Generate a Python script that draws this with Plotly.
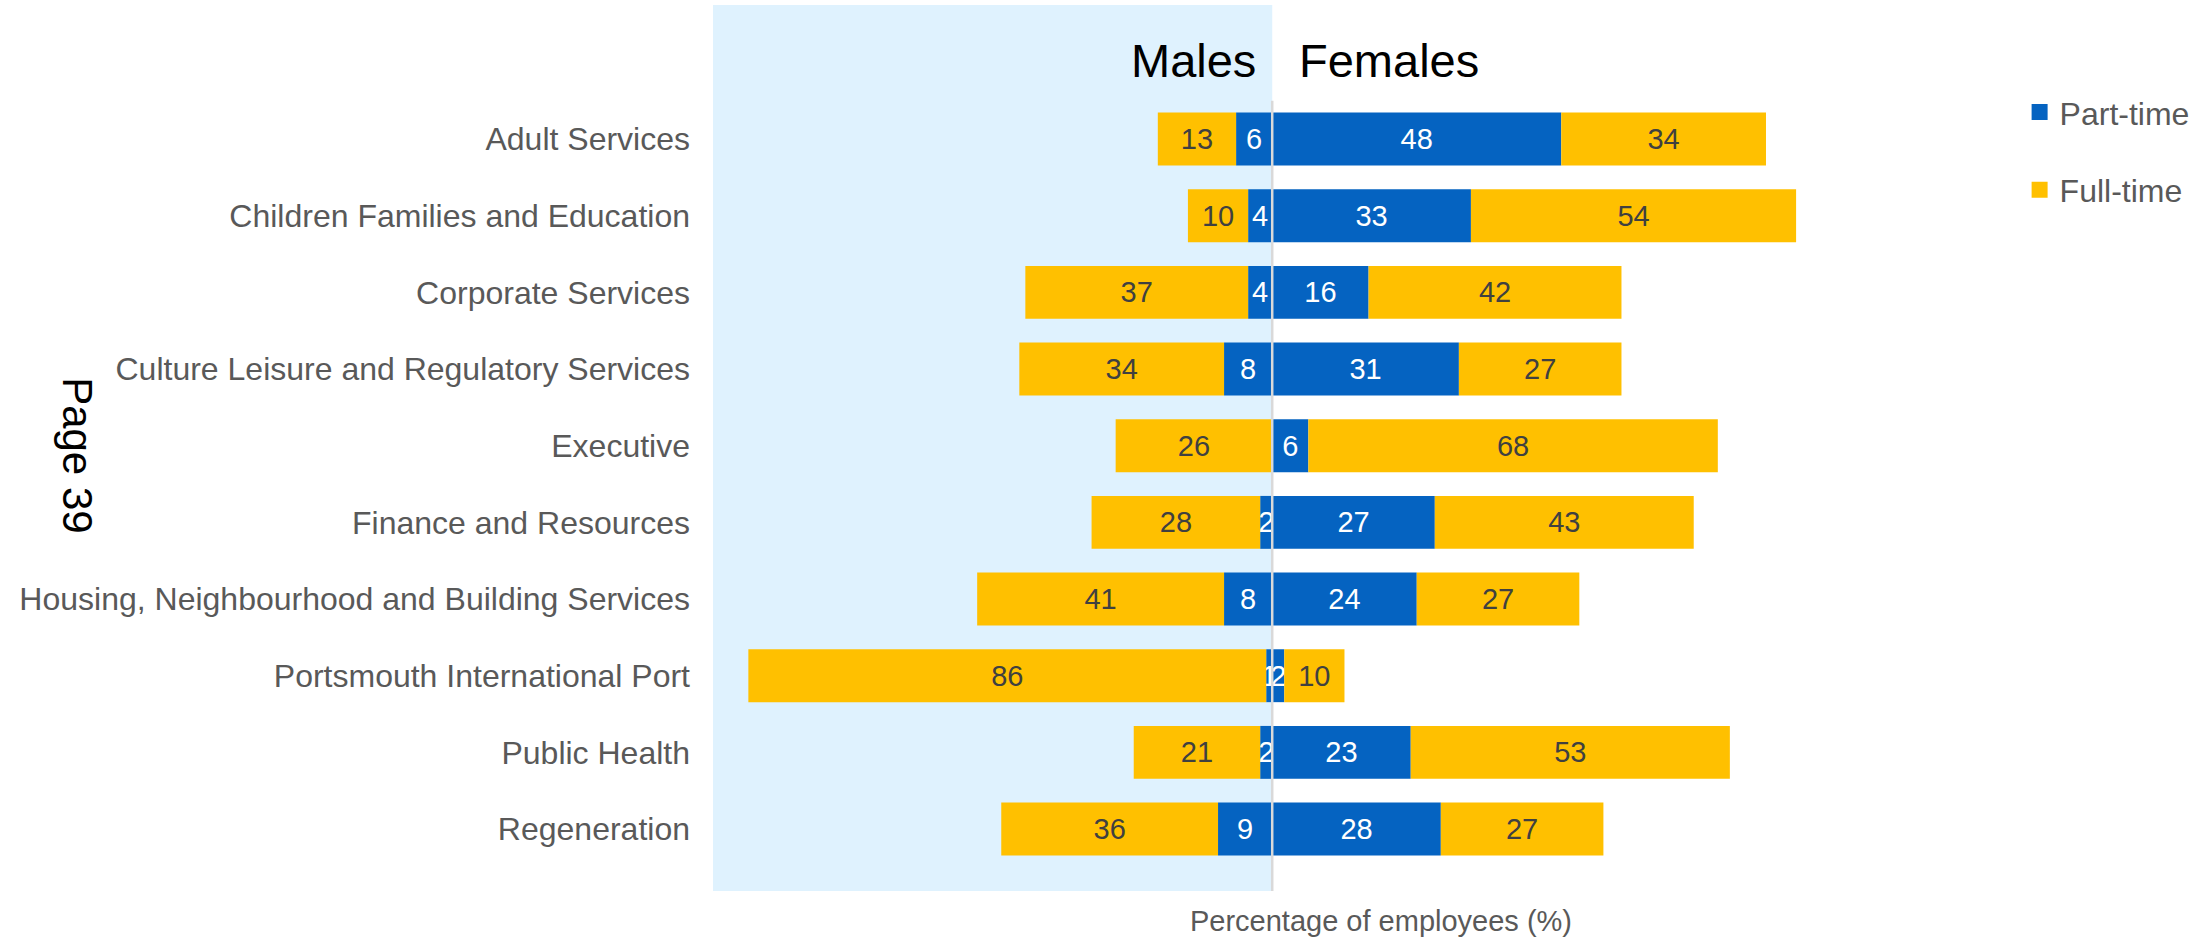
import plotly.graph_objects as go

categories = [
    "Adult Services",
    "Children Families and Education",
    "Corporate Services",
    "Culture Leisure and Regulatory Services",
    "Executive",
    "Finance and Resources",
    "Housing, Neighbourhood and Building Services",
    "Portsmouth International Port",
    "Public Health",
    "Regeneration",
]
male_part_time = [6, 4, 4, 8, 0, 2, 8, 1, 2, 9]
male_full_time = [13, 10, 37, 34, 26, 28, 41, 86, 21, 36]
female_part_time = [48, 33, 16, 31, 6, 27, 24, 2, 23, 28]
female_full_time = [34, 54, 42, 27, 68, 43, 27, 10, 53, 27]

BLUE = "#0563C1"
YELLOW = "#FFC000"
SHADE = "#DFF2FE"
FONT = "Liberation Sans, Arial, sans-serif"


def labels(vals):
    return [str(v) if v else "" for v in vals]


fig = go.Figure()

series = [
    ([-v for v in male_part_time], male_part_time, BLUE, "white"),
    ([-v for v in male_full_time], male_full_time, YELLOW, "#404040"),
    (female_part_time, female_part_time, BLUE, "white"),
    (female_full_time, female_full_time, YELLOW, "#404040"),
]
for xs, vals, col, tcol in series:
    fig.add_trace(go.Bar(
        y=categories, x=xs, orientation="h",
        marker=dict(color=col, line=dict(width=0)),
        text=labels(vals), textposition="inside", insidetextanchor="middle",
        textangle=0, textfont=dict(color=tcol, size=29, family=FONT),
        showlegend=False, hoverinfo="skip",
    ))

# legend entries
for name, col, grp in [("Part-time", BLUE, "a"), ("Full-time", YELLOW, "b")]:
    fig.add_trace(go.Scatter(
        x=[None], y=[None], mode="markers", name=name, legendgroup=grp,
        marker=dict(symbol="square", size=16, color=col, line=dict(width=0)),
    ))

fig.update_layout(
    width=2200, height=937,
    margin=dict(l=713, r=149, t=5, b=46),
    paper_bgcolor="white", plot_bgcolor="white",
    barmode="relative", bargap=0.31,
    uniformtext=dict(minsize=29, mode="show"),
    font=dict(family=FONT, color="#595959"),
    xaxis=dict(
        range=[-92.87, 129.0], showgrid=False, zeroline=False,
        showticklabels=False, ticks="", showline=False,
        title=dict(text="Percentage of employees (%)", font=dict(size=29, color="#595959"), standoff=20),
    ),
    yaxis=dict(
        type="category", range=[9.808, -1.748], showgrid=False, zeroline=False,
        ticks="", showline=False, ticklabelstandoff=22,
        tickfont=dict(size=32, color="#595959", family=FONT),
    ),
    legend=dict(
        x=0.978, xanchor="left", y=0.91, yanchor="top",
        font=dict(size=32, color="#595959", family=FONT),
        tracegroupgap=33, bgcolor="rgba(0,0,0,0)",
    ),
    shapes=[
        dict(type="rect", xref="x", yref="paper", x0=-92.87, x1=0, y0=0, y1=1,
             fillcolor=SHADE, line=dict(width=0), layer="below"),
        dict(type="line", xref="x", yref="y", x0=0, x1=0, y0=-0.5, y1=9.808,
             line=dict(color="#D9D9D9", width=2.5), layer="above"),
    ],
    annotations=[
        dict(text="Males", x=0, xref="x", y=0.937, yref="paper", xanchor="right",
             yanchor="middle", xshift=-14, showarrow=False,
             font=dict(size=47, color="black", family=FONT)),
        dict(text="Females", x=0, xref="x", y=0.937, yref="paper", xanchor="left",
             yanchor="middle", xshift=25, showarrow=False,
             font=dict(size=47, color="black", family=FONT)),
        dict(text="Page 39", x=(77 - 713) / 1338, xref="paper", y=0.492, yref="paper",
             xanchor="center", yanchor="middle", showarrow=False, textangle=90,
             font=dict(size=42, color="black", family=FONT)),
    ],
)

fig.write_html("out.html")
